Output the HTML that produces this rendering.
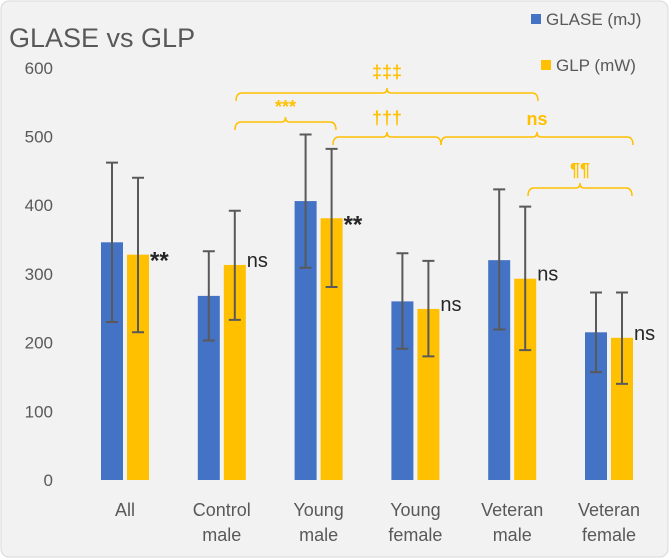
<!DOCTYPE html>
<html><head><meta charset="utf-8"><style>
body{margin:0;background:#fff}
svg{display:block;font-family:"Liberation Sans",sans-serif}
</style></head><body>
<svg id="c" width="669" height="558">
<rect x="1" y="1" width="667" height="556" rx="8" fill="#f2f2f2" stroke="#d9d9d9"/>
<text x="9" y="47" font-size="27" fill="#595959">GLASE vs GLP</text>
<g>
<rect x="531" y="14" width="10" height="10" fill="#4472c4"/>
<text x="546" y="25" font-size="17" fill="#595959">GLASE (mJ)</text>
<rect x="541" y="60" width="10" height="10" fill="#ffc000"/>
<text x="556" y="71" font-size="17" fill="#595959">GLP (mW)</text>
</g>
<g id="axes"></g><g id="marks"></g><g id="ann"></g>
</svg>
<script>
const categories=[["All"],["Control","male"],["Young","male"],["Young","female"],["Veteran","male"],["Veteran","female"]];
const glase=[346,268,406,260,320,215];
const glaseLo=[230,203,309,191,219,157];
const glaseHi=[462,333,503,330,423,273];
const glp=[328,313,381,249,293,207];
const glpLo=[215,233,281,180,189,140];
const glpHi=[440,392,482,319,398,273];
const sigLabels=["**","ns","**","ns","ns","ns"];
const yTicks=[0,100,200,300,400,500,600];
const NS="http://www.w3.org/2000/svg";
const y=v=>480-v*0.687;
const cx=i=>125+i*96.8;
function el(t,a,p,txt){const e=document.createElementNS(NS,t);for(const k in a)e.setAttribute(k,a[k]);if(txt!==undefined)e.textContent=txt;p.appendChild(e);return e;}
const ax=document.getElementById('axes'),mk=document.getElementById('marks'),an=document.getElementById('ann');
yTicks.forEach(v=>{
 const t=el('text',{x:53,y:y(v)+6,'text-anchor':'end','font-size':17,fill:'#595959'},ax,v);
 
 
});
categories.forEach((c,i)=>{
 c.forEach((s,j)=>{
  const t=el('text',{x:cx(i),y:516+j*25,'text-anchor':'middle','font-size':18,fill:'#595959'},ax,s);
  
  
 });
 [[glase,glaseLo,glaseHi,'#4472c4',-13,'glase'],[glp,glpLo,glpHi,'#ffc000',13,'glp']].forEach(([v,lo,hi,col,off,nm])=>{
  const x=cx(i)+off;
  const r=el('rect',{x:x-11,y:y(v[i]),width:22,height:y(0)-y(v[i]),fill:col},mk);
  
  
  const g=el('path',{d:`M${x} ${y(lo[i])}V${y(hi[i])}M${x-6} ${y(hi[i])}H${x+6}M${x-6} ${y(lo[i])}H${x+6}`,stroke:'#595959','stroke-width':2,fill:'none'},mk);
  
  
 });
 const star=sigLabels[i]=='**';
 const t=el('text',{x:cx(i)+25,y:y(glp[i])+(star?14:2),'font-size':star?24:20,'font-weight':star?'bold':'normal',fill:'#262626'},an,sigLabels[i]);
 
 
});
function brace(x1,x2,yy,label,ly){
 const m=(x1+x2)/2;
 const p=el('path',{d:`M${x1} ${yy+8}Q${x1} ${yy} ${x1+6} ${yy}H${m-4}Q${m} ${yy} ${m} ${yy-5}Q${m} ${yy} ${m+4} ${yy}H${x2-6}Q${x2} ${yy} ${x2} ${yy+8}`,stroke:'#ffc000','stroke-width':1.5,fill:'none'},an);
 
 
 const t=el('text',{x:m,y:ly,'text-anchor':'middle','font-size':18,'font-weight':'bold',fill:'#ffc000'},an,label);
 
 
}
brace(236,538,93,'‡‡‡',78);
brace(235,336,122,'***',113);
brace(333,441,137,'†††',124);
brace(441,633,137,'ns',125);
brace(528,632,188,'¶¶',176);
</script>
</body></html>
